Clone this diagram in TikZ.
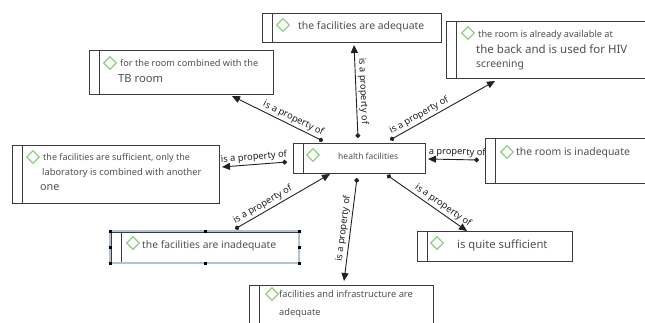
\documentclass[tikz,border=0pt]{standalone}
\usepackage{fontspec}
\setmainfont{Noto Sans}
\usetikzlibrary{arrows.meta,shapes.geometric}
\definecolor{txt}{HTML}{505050}
\definecolor{dia}{HTML}{8FD07F}
\definecolor{edge}{HTML}{3C3C3C}
\definecolor{line}{HTML}{222222}
\definecolor{sel}{HTML}{AFC2D6}
\begin{document}
\begin{tikzpicture}[x=1pt,y=-1pt,
  box/.style={draw=edge, line width=1pt, fill=white, anchor=north west, inner sep=0pt,
    path picture={\draw[edge, line width=1pt] ([xshift=10pt]path picture bounding box.north west) -- ([xshift=10pt]path picture bounding box.south west);}},
  diam/.style={draw=dia, line width=1.3pt, shape=diamond, minimum size=13pt, inner sep=0pt},
  tx/.style={text=txt, anchor=base west, inner sep=0pt},
  conn/.style={draw=line, line width=0.9pt, {Circle[length=4.8pt]}-{Triangle[length=8pt,width=7pt]}},
  lbl/.style={sloped, above, text=black!88, font=\fontsize{9.3}{11}\selectfont, inner sep=2pt},
  handle/.style={fill=black, minimum size=3pt, inner sep=0pt}]
\clip (0,0) rectangle (645,322);
\fill[white] (0,0) rectangle (645,322);
% connector end points
\coordinate (s1) at (323,141); \coordinate (e1) at (232,96);
\coordinate (s2) at (358,138); \coordinate (e2) at (354,45);
\coordinate (s3) at (390,140); \coordinate (e3) at (495,81);
\coordinate (s4) at (287,162); \coordinate (e4) at (222,167);
\coordinate (s5) at (479,160); \coordinate (e5) at (428,159);
\coordinate (s6) at (235,229); \coordinate (e6) at (330,174);
\coordinate (s7) at (357,178); \coordinate (e7) at (344,281);
\coordinate (s8) at (387,175); \coordinate (e8) at (467,231);
% connectors
\draw[conn] (s1) -- node[lbl, pos=0.36] {is a property of} (e1);
\draw[conn] (s2) -- node[lbl, pos=0.5] {is a property of} (e2);
\draw[conn] (s3) -- node[lbl, pos=0.31] {is a property of} (e3);
\draw[conn] (s4) -- node[lbl, pos=0.5] {is a property of} (e4);
\draw[conn] (s5) -- node[lbl, pos=0.52] {is a property of} (e5);
\draw[conn] (s6) -- node[lbl, pos=0.33] {is a property of} (e6);
\draw[conn] (s7) -- node[lbl, pos=0.5] {is a property of} (e7);
\draw[conn] (s8) -- node[lbl, pos=0.65] {is a property of} (e8);
% boxes
\node[box, minimum width=179pt, minimum height=29pt] (b1) at (262,13) {};
\node[box, minimum width=184pt, minimum height=44pt] (b2) at (89,50) {};
\node[box, minimum width=210pt, minimum height=57pt] (b3) at (446,21) {};
\node[box, minimum width=207pt, minimum height=58pt] (b4) at (12,145) {};
\node[box, minimum width=132pt, minimum height=30pt] (hf) at (293,143) {};
\node[box, minimum width=170pt, minimum height=45pt] (b6) at (485,138) {};
\node[box, minimum width=187pt, minimum height=30pt] (b7) at (111,232) {};
\node[box, minimum width=155pt, minimum height=30pt] (b8) at (417,231) {};
\node[box, minimum width=184pt, minimum height=50pt] (b9) at (249,285) {};
% selection frame of b7
\draw[sel, line width=1.2pt] (110,231) rectangle (299,263);
\foreach \hx/\hy [count=\i] in {110/231,205/231,299/231,110/247,299/247,110/263,205/263,299/263}
  \node[handle] (h\i) at (\hx,\hy) {};
% diamonds
\node[diam] (d1) at (283,25) {};
\node[diam] (d2) at (110,63) {};
\node[diam] (d3) at (468,33) {};
\node[diam] (d4) at (33,157) {};
\node[diam] (d5) at (313,155) {};
\node[diam] (d6) at (507,152) {};
\node[diam] (d7) at (133,243) {};
\node[diam] (d8) at (437,243) {};
\node[diam] (d9) at (272,294) {};
% texts
\node[tx, font=\fontsize{10.4}{12}\selectfont] (t1) at (298,29) {the facilities are adequate};
\node[tx, font=\fontsize{9.2}{11}\selectfont] (t2a) at (120,66) {for the room combined with the};
\node[tx, font=\fontsize{11.2}{13}\selectfont] (t2b) at (118,82) {TB room};
\node[tx, font=\fontsize{9.2}{11}\selectfont] (t3a) at (478,37) {the room is already available at};
\node[tx, font=\fontsize{11.5}{13}\selectfont] (t3b) at (476,53) {the back and is used for HIV};
\node[tx, font=\fontsize{10.4}{12}\selectfont] (t3c) at (476,67) {screening};
\node[tx, font=\fontsize{9}{11}\selectfont] (t4a) at (43,160) {the facilities are sufficient, only the};
\node[tx, font=\fontsize{9.3}{11}\selectfont] (t4b) at (42,175) {laboratory is combined with another};
\node[tx, font=\fontsize{10.8}{12}\selectfont] (t4c) at (40,190) {one};
\node[tx, font=\fontsize{8.5}{10}\selectfont] (t5) at (338,159) {health facilities};
\node[tx, font=\fontsize{10.4}{12}\selectfont] (t6) at (516,155) {the room is inadequate};
\node[tx, font=\fontsize{10.3}{12}\selectfont] (t7) at (142,248) {the facilities are inadequate};
\node[tx, font=\fontsize{11.3}{13}\selectfont] (t8) at (457,248) {is quite sufficient};
\node[tx, font=\fontsize{9.3}{11}\selectfont] (t9a) at (279,297) {facilities and infrastructure are};
\node[tx, font=\fontsize{9.3}{11}\selectfont] (t9b) at (279,315) {adequate};
\end{tikzpicture}
\end{document}
